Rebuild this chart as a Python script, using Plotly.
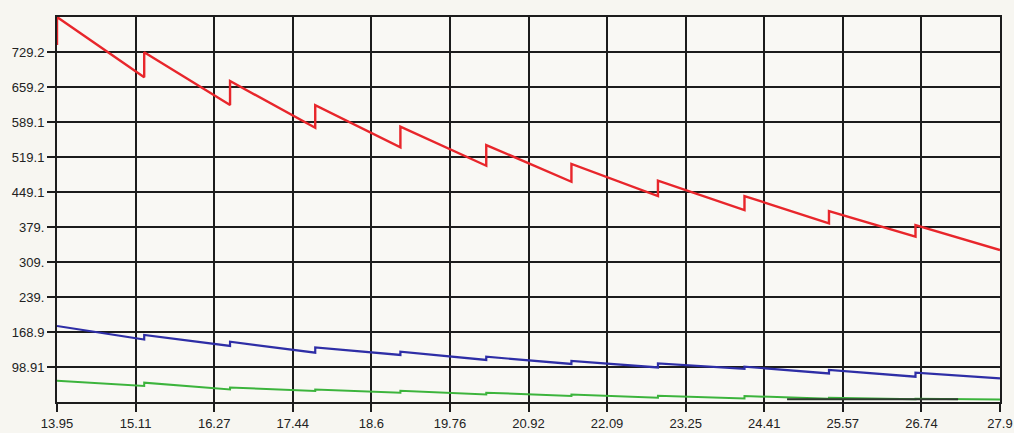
import plotly.graph_objects as go

# ---- data ----
x_tick_vals = [13.95, 15.1125, 16.275, 17.4375, 18.6, 19.7625, 20.925,
               22.0875, 23.25, 24.4125, 25.575, 26.7375, 27.9]
x_tick_text = ["13.95", "15.11", "16.27", "17.44", "18.6", "19.76", "20.92",
               "22.09", "23.25", "24.41", "25.57", "26.74", "27.9"]
y_tick_vals = [98.91, 168.9, 239.0, 309.0, 379.0, 449.1, 519.1, 589.1, 659.2, 729.2]
y_tick_text = ["98.91", "168.9", "239.", "309.", "379.", "449.1", "519.1",
               "589.1", "659.2", "729.2"]

x_start = 13.95
x_end = 27.9
jump_x = [15.24, 16.51, 17.77, 19.03, 20.30, 21.56, 22.84, 24.12, 25.37, 26.65]

red_start = [743.0, 799.2]
red_before = [678.5, 623.0, 577.7, 538.5, 501.6, 469.6, 441.0, 413.0, 386.4, 359.6]
red_after = [728.5, 671.0, 623.0, 579.7, 543.0, 505.1, 471.6, 441.0, 411.0, 383.0]
red_end = 333.0

blue_start = 181.0
blue_before = [154.0, 141.0, 127.5, 123.0, 113.0, 105.0, 98.0, 95.0, 86.0, 79.5]
blue_after = [163.0, 149.5, 138.0, 129.5, 119.5, 111.0, 106.0, 99.5, 93.0, 87.5]
blue_end = 76.0

green_start = 71.5
green_before = [61.0, 54.0, 51.0, 47.5, 44.0, 41.0, 37.5, 36.0, 35.5, 34.5]
green_after = [67.5, 58.0, 54.0, 51.5, 47.5, 44.0, 41.5, 40.8, 37.5, 35.5]
green_end = 34.0

dark_x = [24.75, 27.28]
dark_y = [34.6, 34.6]


def sawtooth(start_vals, before, after, end_val):
    xs = [x_start] * len(start_vals)
    ys = list(start_vals)
    for jx, b, a in zip(jump_x, before, after):
        xs += [jx, jx]
        ys += [b, a]
    xs.append(x_end)
    ys.append(end_val)
    return xs, ys


rx, ry = sawtooth(red_start, red_before, red_after, red_end)
bx, by = sawtooth([blue_start], blue_before, blue_after, blue_end)
gx, gy = sawtooth([green_start], green_before, green_after, green_end)

fig = go.Figure()
fig.add_trace(go.Scatter(x=gx, y=gy, mode="lines",
                         line=dict(color="#3cb43c", width=2), showlegend=False))
fig.add_trace(go.Scatter(x=dark_x, y=dark_y, mode="lines",
                         line=dict(color="#2f3a2f", width=2), showlegend=False))
fig.add_trace(go.Scatter(x=bx, y=by, mode="lines",
                         line=dict(color="#2e2ea6", width=2.2), showlegend=False))
fig.add_trace(go.Scatter(x=rx, y=ry, mode="lines",
                         line=dict(color="#e8262b", width=2.4), showlegend=False))

axis_common = dict(
    showgrid=True, gridcolor="#1c1c1c", gridwidth=2,
    showline=True, linecolor="#1c1c1c", linewidth=2, mirror=True,
    ticks="outside", ticklen=8, tickwidth=2, tickcolor="#1c1c1c",
    zeroline=False, automargin=False,
    tickfont=dict(family="Liberation Sans, Arial, sans-serif", size=13, color="#222222"),
)

fig.update_xaxes(range=[13.95, 27.9], tickmode="array",
                 tickvals=x_tick_vals, ticktext=x_tick_text, **axis_common)
fig.update_yaxes(range=[28.88, 799.2], tickmode="array",
                 tickvals=y_tick_vals, ticktext=y_tick_text, **axis_common)

fig.update_layout(
    width=1014, height=433,
    margin=dict(l=57, r=14, t=17, b=31),
    paper_bgcolor="#f7f6f1",
    plot_bgcolor="#f9f8f4",
    showlegend=False,
)

fig.write_html("out.html",
               config={"displayModeBar": False},
               post_script="document.body.style.margin='0';document.body.style.padding='0';")
